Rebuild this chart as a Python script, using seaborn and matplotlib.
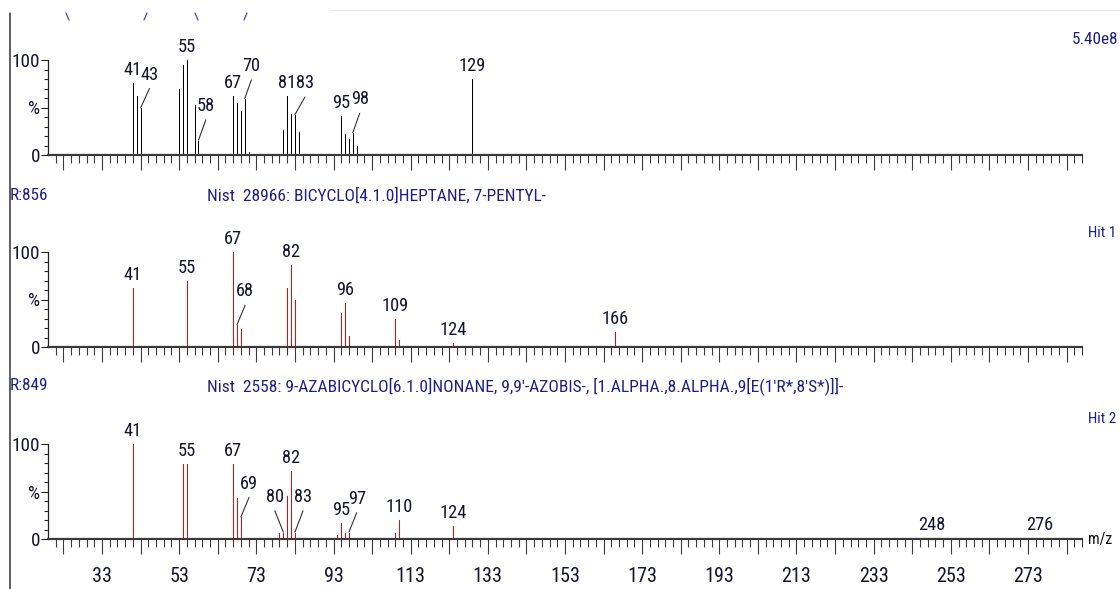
import os
import matplotlib
matplotlib.use("Agg")
import matplotlib.pyplot as plt
from matplotlib import font_manager as fm
from matplotlib.lines import Line2D
from matplotlib.ticker import FixedLocator
import numpy as np
import pandas as pd
import seaborn as sns

# ---------------- data ----------------
sample_mz = [41, 42, 43, 53, 54, 55, 57, 58, 67, 68, 69, 70, 71,
             80, 81, 82, 83, 84, 95, 96, 97, 98, 99, 129]
sample_int = [76, 62, 49, 70, 95, 100, 53, 15, 62, 55, 46, 59, 3,
              26, 62, 43, 42, 24, 41, 22, 17, 23, 10, 80]
sample_labels = [41, 43, 55, 58, 67, 70, 81, 83, 95, 98, 129]

hit1_mz = [41, 55, 67, 68, 69, 81, 82, 83, 95, 96, 97, 109, 110, 124, 166]
hit1_int = [62, 69, 100, 23, 19, 62, 86, 50, 36, 46, 12, 29, 7, 4.5, 16]
hit1_labels = [41, 55, 67, 68, 82, 96, 109, 124, 166]

hit2_mz = [41, 54, 55, 67, 68, 69, 79, 80, 81, 82, 83, 94, 95, 96, 97,
           109, 110, 124, 248, 276]
hit2_int = [100, 79, 79, 79, 43, 23, 7, 7, 46, 72, 7, 5, 17, 7, 7,
            7, 20, 14, 1.5, 1.5]
hit2_labels = [41, 55, 67, 69, 80, 82, 83, 95, 97, 110, 124, 248, 276]

hit1_score = "R:856"
hit1_name = "Nist  28966: BICYCLO[4.1.0]HEPTANE, 7-PENTYL-"
hit2_score = "R:849"
hit2_name = ("Nist  2558: 9-AZABICYCLO[6.1.0]NONANE, 9,9'-AZOBIS-, "
             "[1.ALPHA.,8.ALPHA.,9[E(1'R*,8'S*)]]-")
sample_scale = "5.40e8"
x_ticks_major = list(range(23, 288, 10))
x_ticks_labelled = list(range(33, 288, 20))

# ---------------- layout (label displacements with leader lines) -------
# m/z of label -> (shift in m/z units, label bottom in %)
leaders = [
    {43: (2.3, 75), 58: (1.9, 42), 70: (1.7, 84), 83: (2.6, 66), 98: (1.8, 49)},
    {68: (2.1, 49)},
    {69: (2.1, 49), 80: (-2.2, 35), 83: (2.1, 35), 97: (2.0, 33)},
]

sns.set_theme(style="white")
plt.rcParams['font.family'] = ['DejaVu Sans']

W, H = 1120, 589


def pick_font():
    bad = ('bold', 'italic', 'oblique', 'light', 'thin', 'black', 'medium',
           'semibold', 'heavy', 'mono', 'serif', 'cjk', 'math', 'symbol',
           'display', 'extralight')
    fams = ('Liberation Sans Narrow', 'Liberation Sans', 'Noto Sans',
            'Roboto', 'Roboto Condensed', 'Open Sans', 'DejaVu Sans', 'Lato',
            'Inter', 'Arimo')
    best = None
    for f in fm.fontManager.ttflist:
        fn = os.path.basename(f.fname).lower().replace('-', '').replace('_', '')
        if f.name not in fams:
            continue
        if any(b in fn for b in bad):
            continue
        if 'extracondensed' in fn or 'ultracondensed' in fn:
            s = 1
        elif 'narrow' in fn:
            s = 2
        elif 'semicondensed' in fn:
            s = 5
        elif 'condensed' in fn:
            s = 3
        else:
            s = 9
        fam_rank = fams.index(f.name)
        key = (s, fam_rank)
        if best is None or key < best[0]:
            best = (key, f.fname)
    if best is None:
        return fm.FontProperties(family='DejaVu Sans')
    return fm.FontProperties(fname=best[1])


BASEFP = pick_font()

fig = plt.figure(figsize=(W / 100, H / 100), dpi=100)
renderer = fig.canvas.get_renderer()


def fp_size(size):
    fp = BASEFP.copy()
    fp.set_size(size)
    return fp


def measure(s, size):
    w, h, d = renderer.get_text_width_height_descent(s, fp_size(size), ismath=False)
    return w, h


def fit(s, target_w, max_h=None, hstr="0"):
    w, _ = measure(s, 10)
    size = 10 * target_w / w
    if max_h is not None:
        _, h = measure(hstr, 10)
        size = min(size, 10 * max_h / h)
    return size


peak_size = fit("8183", 36, max_h=21)
tick_size = fit("33", 20, max_h=24)
ylab_size = fit("100", 28, max_h=23)
title_size = 0.5 * (fit(hit1_name, 339) + fit(hit2_name, 628))
score_size = fit("R:856", 38, max_h=18, hstr="R")
hit_size = fit("Hit 1", 28, max_h=20, hstr="H")
scale_size = fit(sample_scale, 46, max_h=20)
mz_size = fit("m/z", 24, max_h=20, hstr="m")

LBL = '#141430'
BLUE = '#1e1e88'
AXC = '#3a3a3a'

X0, X1 = 19, 287
LEFT_PX, RIGHT_PX = 48, 1082


def make_ax(base_px, top_px):
    return fig.add_axes([LEFT_PX / W, (H - base_px) / H,
                         (RIGHT_PX - LEFT_PX) / W, (base_px - top_px) / H])


panels = [
    (make_ax(155, 60), sample_mz, sample_int, sample_labels, '#000000'),
    (make_ax(347, 252), hit1_mz, hit1_int, hit1_labels, '#ff0000'),
    (make_ax(539.3, 444.3), hit2_mz, hit2_int, hit2_labels, '#ff0000'),
]

minor_ticks = [v for v in range(21, 288, 2) if v not in x_ticks_major]

for i, (ax, mz, inten, labels, color) in enumerate(panels):
    df = pd.DataFrame({"mz": mz, "intensity": inten})
    ax.set_facecolor('none')
    ax.vlines(df["mz"], 0, df["intensity"], colors=color, lw=0.72, clip_on=False,
              antialiased=False)
    ax.set_xlim(X0, X1)
    ax.set_ylim(0, 100)
    sns.despine(ax=ax, top=True, right=True)
    ax.spines['bottom'].set_linewidth(1.6)
    ax.spines['bottom'].set_color(AXC)
    ax.spines['left'].set_linewidth(0.9)
    ax.spines['left'].set_color('#222222')
    ax.grid(False)

    # x ticks
    ax.xaxis.set_major_locator(FixedLocator(x_ticks_major))
    ax.xaxis.set_minor_locator(FixedLocator(minor_ticks))
    ax.tick_params(axis='x', which='major', direction='out', length=11,
                   width=0.8, color=AXC, bottom=True)
    ax.tick_params(axis='x', which='minor', direction='out', length=5.5,
                   width=0.8, color=AXC, bottom=True)
    if i == 2:
        _, th = measure("33", tick_size)
        pad_px = 575 - th / 2 - (539.3 + 11 * 100 / 72)
        ax.set_xticklabels([str(v) if v in x_ticks_labelled else ''
                            for v in x_ticks_major],
                           fontproperties=fp_size(tick_size), color=LBL)
        ax.tick_params(axis='x', which='major', pad=max(pad_px, 0) * 72 / 100)
        ax.text(1.0 + 6 / (RIGHT_PX - LEFT_PX), 0, "m/z", transform=ax.transAxes,
                ha='left', va='center', fontproperties=fp_size(mz_size),
                color='#101010')
    else:
        ax.set_xticklabels([])

    # y ticks
    ax.yaxis.set_major_locator(FixedLocator([0, 50, 100]))
    ax.yaxis.set_minor_locator(FixedLocator(list(range(10, 100, 10))))
    ax.set_yticklabels(['0', '%', '100'], fontproperties=fp_size(ylab_size),
                       color=LBL)
    ax.tick_params(axis='y', which='major', direction='out', length=5,
                   width=0.8, color='#222222', pad=0.5, left=True)
    ax.tick_params(axis='y', which='minor', direction='out', length=2.8,
                   width=0.8, color='#222222', left=True)

    # peak labels
    lut = dict(zip(mz, inten))
    for lab in labels:
        y = lut[lab]
        if lab in leaders[i]:
            dx, ybot = leaders[i][lab]
            ax.plot([lab, lab + dx], [y + 0.5, ybot - 5], color='#333333',
                    lw=0.8, clip_on=False)
            ax.text(lab + dx, ybot, str(lab), ha='center', va='bottom',
                    fontproperties=fp_size(peak_size), color=LBL, clip_on=False)
        else:
            ax.annotate(str(lab), xy=(lab, y), xytext=(0, 3),
                        textcoords='offset points', ha='center', va='bottom',
                        fontproperties=fp_size(peak_size), color=LBL,
                        annotation_clip=False)


def ftext(xpx, ypx, s, size, ha='left', color=BLUE):
    fig.text(xpx / W, 1 - ypx / H, s, ha=ha, va='center',
             fontproperties=fp_size(size), color=color)


ftext(1118, 40, sample_scale, scale_size, ha='right')
ftext(10, 196, hit1_score, score_size)
ftext(207, 196, hit1_name, title_size)
ftext(1116, 233, "Hit 1", hit_size, ha='right')
ftext(10, 386, hit2_score, score_size)
ftext(207, 386, hit2_name, title_size)
ftext(1116, 419, "Hit 2", hit_size, ha='right')

# frame line at left and remnants of the clipped panel above
fig.add_artist(Line2D([9.5 / W, 9.5 / W], [1 - 13 / H, 0], transform=fig.transFigure,
                      color='#333333', lw=1.1))
fig.add_artist(Line2D([330 / W, 1], [1 - 10 / H, 1 - 10 / H], transform=fig.transFigure,
                      color='#ececec', lw=0.8))
for (xa, xb) in [(66, 69), (147, 144), (195, 198), (247, 244)]:
    fig.add_artist(Line2D([xa / W, xb / W], [1 - 13 / H, 1 - 20 / H],
                          transform=fig.transFigure, color='#4848a8', lw=0.9))

fig.savefig("out.png", dpi=100)
